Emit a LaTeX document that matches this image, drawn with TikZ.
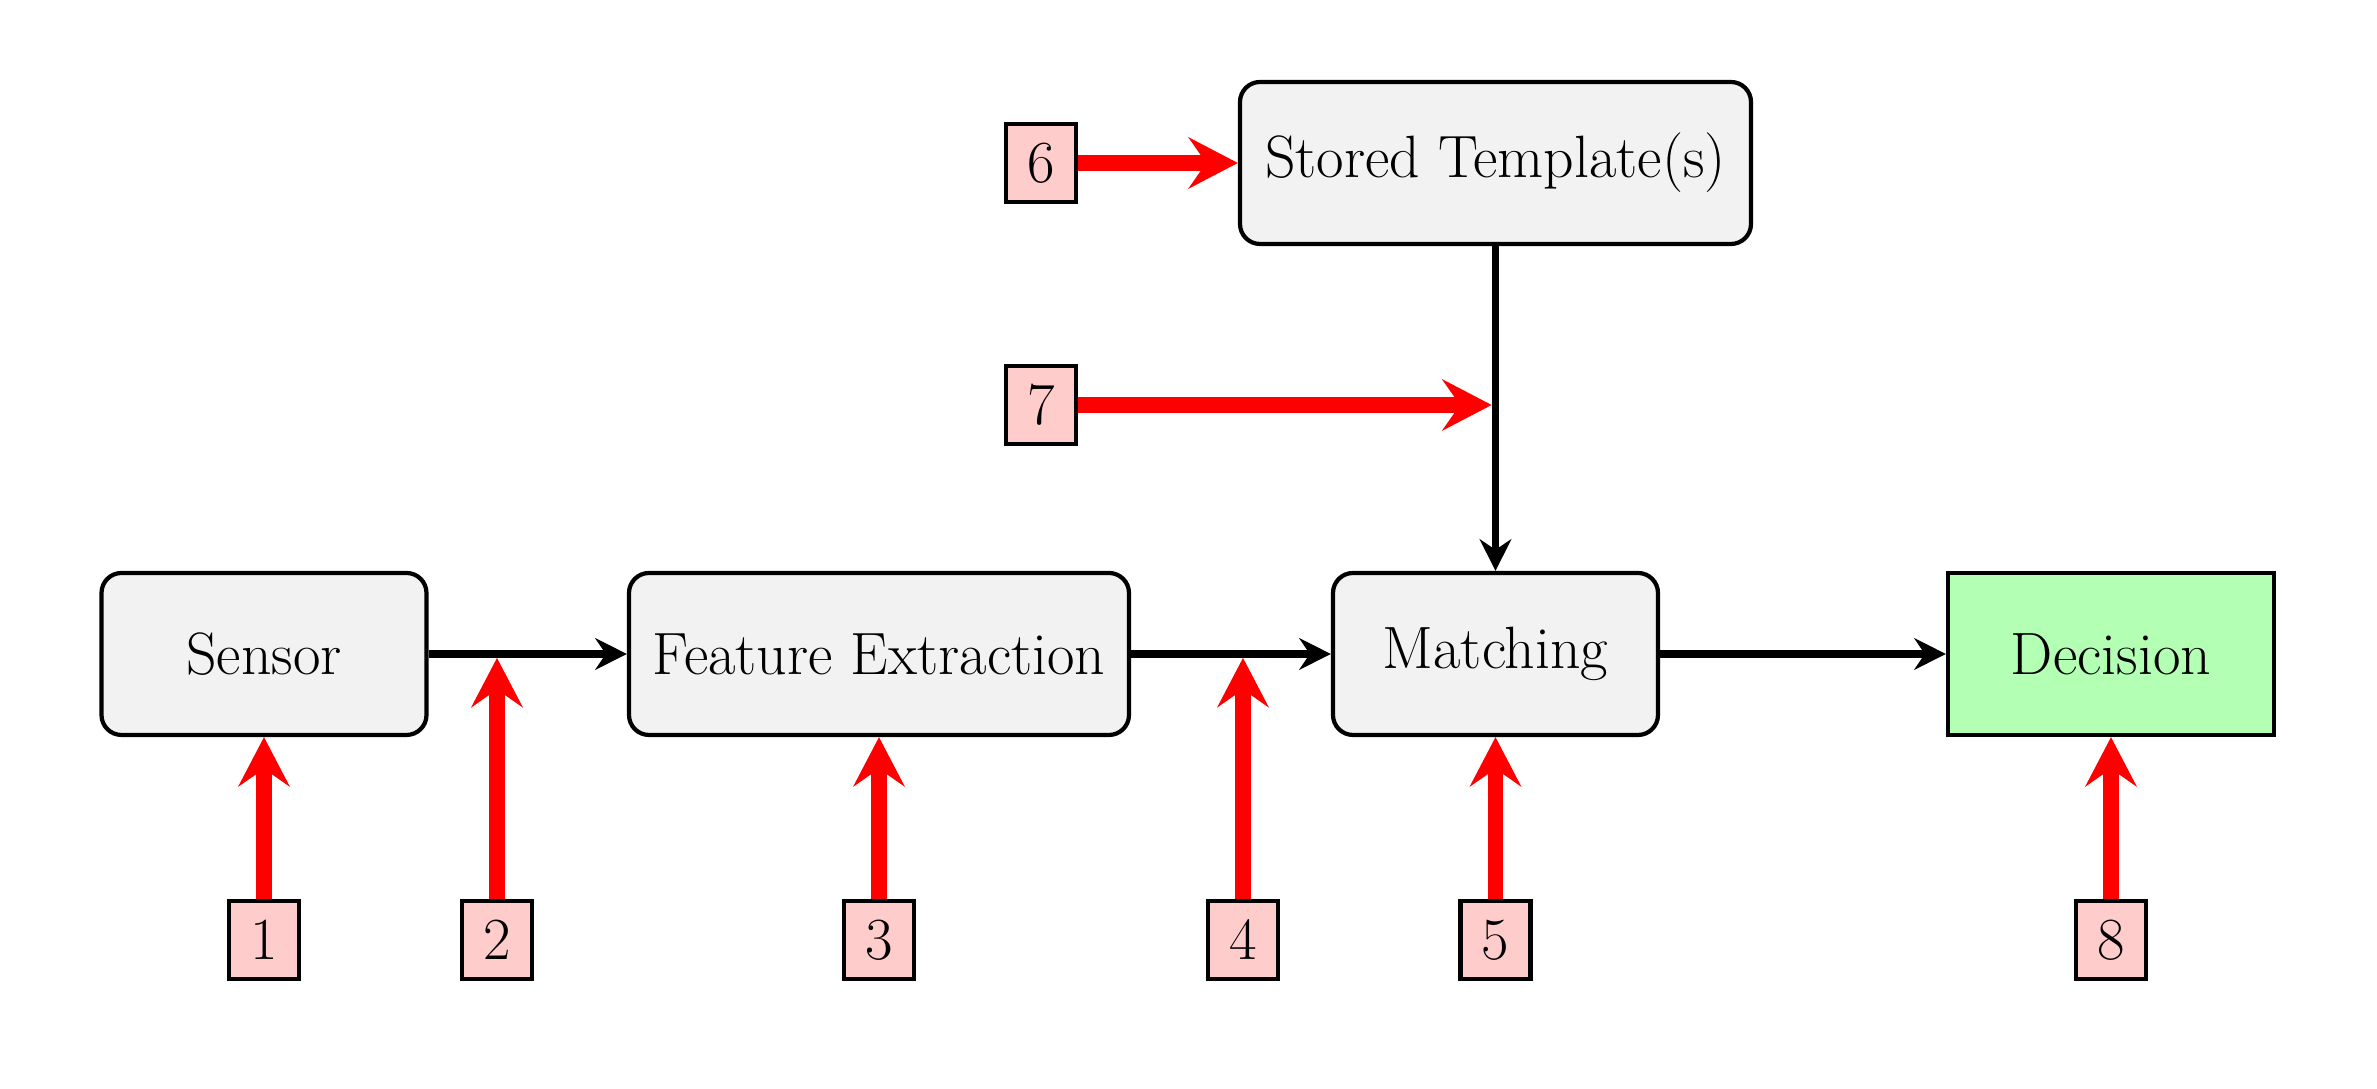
\documentclass[tikz,border=0pt]{standalone}
\usepackage{fontspec}
\usetikzlibrary{arrows.meta}
\definecolor{boxgray}{HTML}{F2F2F2}
\definecolor{decgreen}{HTML}{B3FFB3}
\definecolor{numpink}{HTML}{FFCCCC}
\begin{document}
\begin{tikzpicture}[
  font=\fontsize{17}{20}\selectfont,
  procbox/.style={draw=black, line width=1.2pt, fill=boxgray, rounded corners=0.2cm,
    minimum height=1.62cm, minimum width=3.25cm, inner sep=0pt},
  decbox/.style={draw=black, line width=1.2pt, fill=decgreen,
    minimum height=1.62cm, minimum width=3.26cm, inner sep=0pt},
  numbox/.style={draw=black, line width=1.2pt, fill=numpink,
    minimum width=0.70cm, minimum height=0.78cm, inner sep=0pt},
  flow/.style={draw=black, line width=2.1pt, -{Stealth[length=9pt,width=9pt,inset=3pt]}},
  attack/.style={draw=red, line width=4.5pt, -{Stealth[length=14pt,width=14.5pt,inset=5pt]}}
]
\useasboundingbox (0,0) rectangle (23.77,10.89);

\node[procbox] (sensor) at (2.64,4.35) {Sensor};
\node[procbox, minimum width=5.0cm] (fe) at (8.79,4.35) {Feature Extraction};
\node[procbox] (match) at (14.955,4.35) {Matching};
\node[decbox] (dec) at (21.11,4.35) {Decision};
\node[procbox, minimum width=5.11cm] (stored) at (14.955,9.26) {Stored Template(s)};

\node[numbox] (n1) at (2.64,1.49) {1};
\node[numbox] (n2) at (4.97,1.49) {2};
\node[numbox] (n3) at (8.79,1.49) {3};
\node[numbox] (n4) at (12.43,1.49) {4};
\node[numbox] (n5) at (14.955,1.49) {5};
\node[numbox] (n8) at (21.11,1.49) {8};
\node[numbox] (n6) at (10.41,9.26) {6};
\node[numbox] (n7) at (10.41,6.84) {7};

\coordinate (j2) at (n2 |- sensor.east);
\coordinate (j4) at (n4 |- fe.east);
\coordinate (j7) at (n7 -| stored.south);

\draw[flow] (sensor.east) -- (fe.west);
\draw[flow] (fe.east) -- (match.west);
\draw[flow] (match.east) -- (dec.west);
\draw[flow] (stored.south) -- (match.north);

\draw[attack] (n1.north) -- (sensor.south);
\draw[attack] (n2.north) -- ([yshift=-1.1pt]j2);
\draw[attack] (n3.north) -- (fe.south);
\draw[attack] (n4.north) -- ([yshift=-1.1pt]j4);
\draw[attack] (n5.north) -- (match.south);
\draw[attack] (n8.north) -- (dec.south);
\draw[attack] (n6.east) -- (stored.west);
\draw[attack] (n7.east) -- ([xshift=-1.1pt]j7);
\end{tikzpicture}
\end{document}
